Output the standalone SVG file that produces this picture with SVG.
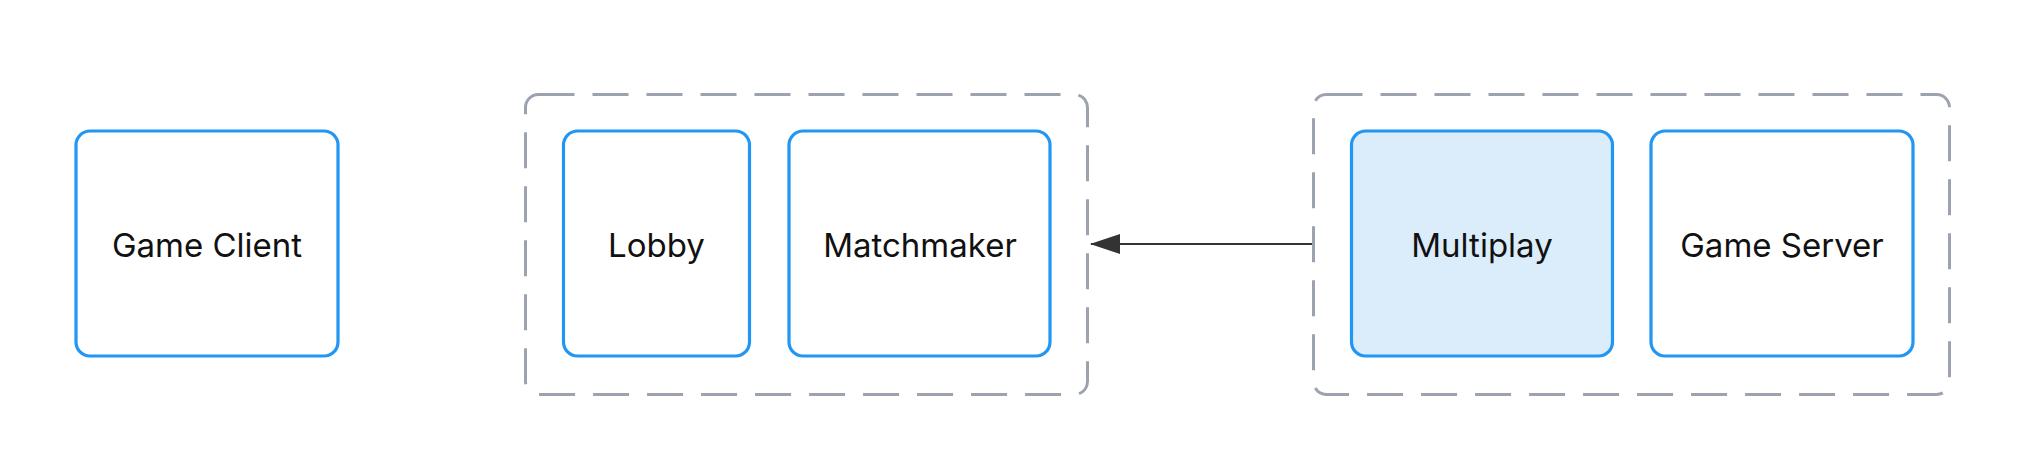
<svg xmlns="http://www.w3.org/2000/svg" width="2025" height="469" viewBox="0 0 2025 469">
<defs>
<style>
.grp{fill:none;stroke:#9ca3af;stroke-width:3;stroke-dasharray:36 18}
.box{fill:#ffffff;stroke:#2196f3;stroke-width:3.2}
.hl{fill:#dbecfb}
.lbl{font-family:Inter,"Noto Sans",sans-serif;font-size:33px;fill:#111111;text-anchor:middle}
.edge{fill:none;stroke:#333333;stroke-width:2.2}
</style>
<marker id="arr" viewBox="0 0 30 20" refX="29" refY="10" markerWidth="30" markerHeight="20" markerUnits="userSpaceOnUse" orient="auto">
<path d="M0,0 L30,10 L0,20 Z" fill="#333333"/>
</marker>
</defs>
<rect width="2025" height="469" fill="#ffffff"/>
<g id="group-lobby"><rect class="grp" x="525.5" y="94.5" width="562" height="300" rx="13"/></g>
<g id="group-multiplay"><rect class="grp" x="1313.5" y="94.5" width="636" height="300" rx="13"/></g>
<g id="node-game-client"><rect class="box" x="76" y="131" width="262" height="225" rx="14"/><text class="lbl" x="207" y="257">Game Client</text></g>
<g id="node-lobby"><rect class="box" x="563.5" y="131" width="186" height="225" rx="14"/><text class="lbl" x="656.5" y="257">Lobby</text></g>
<g id="node-matchmaker"><rect class="box" x="789" y="131" width="261" height="225" rx="14"/><text class="lbl" x="920" y="257">Matchmaker</text></g>
<g id="node-multiplay"><rect class="box hl" x="1351.5" y="131" width="261" height="225" rx="14"/><text class="lbl" x="1482" y="257">Multiplay</text></g>
<g id="node-game-server"><rect class="box" x="1651" y="131" width="262" height="225" rx="14"/><text class="lbl" x="1782" y="257">Game Server</text></g>
<g id="connectors"><line class="edge" x1="1312" y1="244" x2="1091" y2="244" marker-end="url(#arr)"/></g>
</svg>
